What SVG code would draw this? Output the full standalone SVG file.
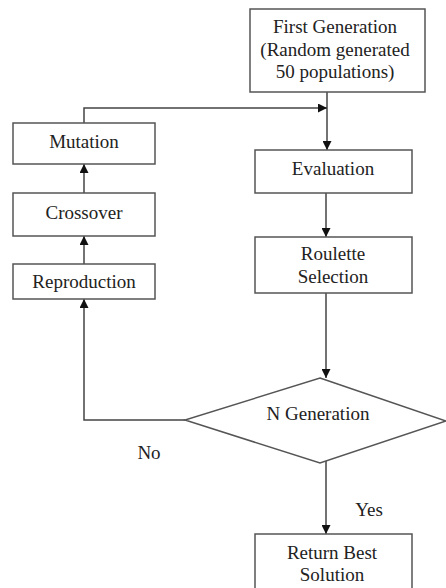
<svg xmlns="http://www.w3.org/2000/svg" width="446" height="588" viewBox="0 0 446 588">
<defs>
<style>
.box{fill:#fff;stroke:#555;stroke-width:1.5}
.ln{fill:none;stroke:#444;stroke-width:1.5}
.t{font-family:'Liberation Serif','DejaVu Serif',serif;font-size:19px;fill:#222;text-anchor:middle}
</style>
<marker id="ah" viewBox="0 0 10 10" refX="10" refY="5" markerWidth="6" markerHeight="6" orient="auto" markerUnits="strokeWidth">
<path d="M0,0 L10,5 L0,10 z" fill="#111"/>
</marker>
</defs>
<rect width="446" height="588" fill="#fff"/>
<g id="connectors">
<path class="ln" d="M327,92 V150" marker-end="url(#ah)"/>
<path class="ln" d="M84,123 V108 H327" marker-end="url(#ah)"/>
<path class="ln" d="M326,193 V237" marker-end="url(#ah)"/>
<path class="ln" d="M326,293 V378" marker-end="url(#ah)"/>
<path class="ln" d="M326,461 V534" marker-end="url(#ah)"/>
<path class="ln" d="M185,420 H84 V299" marker-end="url(#ah)"/>
<path class="ln" d="M84,264 V236" marker-end="url(#ah)"/>
<path class="ln" d="M84,193 V164" marker-end="url(#ah)"/>
<text class="t" x="149" y="459">No</text>
<text class="t" x="369" y="516">Yes</text>
</g>
<g id="first">
<rect class="box" x="250" y="9" width="175" height="83"/>
<text class="t" x="335" y="33">First Generation</text>
<text class="t" x="335" y="56">(Random generated</text>
<text class="t" x="335" y="78">50 populations)</text>
</g>
<g id="mutation">
<rect class="box" x="13" y="123" width="142" height="41"/>
<text class="t" x="84" y="148">Mutation</text>
</g>
<g id="crossover">
<rect class="box" x="13" y="193" width="142" height="43"/>
<text class="t" x="84" y="219">Crossover</text>
</g>
<g id="reproduction">
<rect class="box" x="13" y="264" width="142" height="35"/>
<text class="t" x="84" y="288">Reproduction</text>
</g>
<g id="evaluation">
<rect class="box" x="255" y="150" width="157" height="43"/>
<text class="t" x="333" y="175">Evaluation</text>
</g>
<g id="roulette">
<rect class="box" x="255" y="237" width="157" height="56"/>
<text class="t" x="333" y="260">Roulette</text>
<text class="t" x="333" y="283">Selection</text>
</g>
<g id="ngen">
<polygon class="box" points="320,378 446,421 320,463 185,420"/>
<text class="t" x="318" y="420">N Generation</text>
</g>
<g id="return">
<rect class="box" x="255" y="534" width="157" height="60"/>
<text class="t" x="332" y="559">Return Best</text>
<text class="t" x="332" y="581">Solution</text>
</g>
</svg>
